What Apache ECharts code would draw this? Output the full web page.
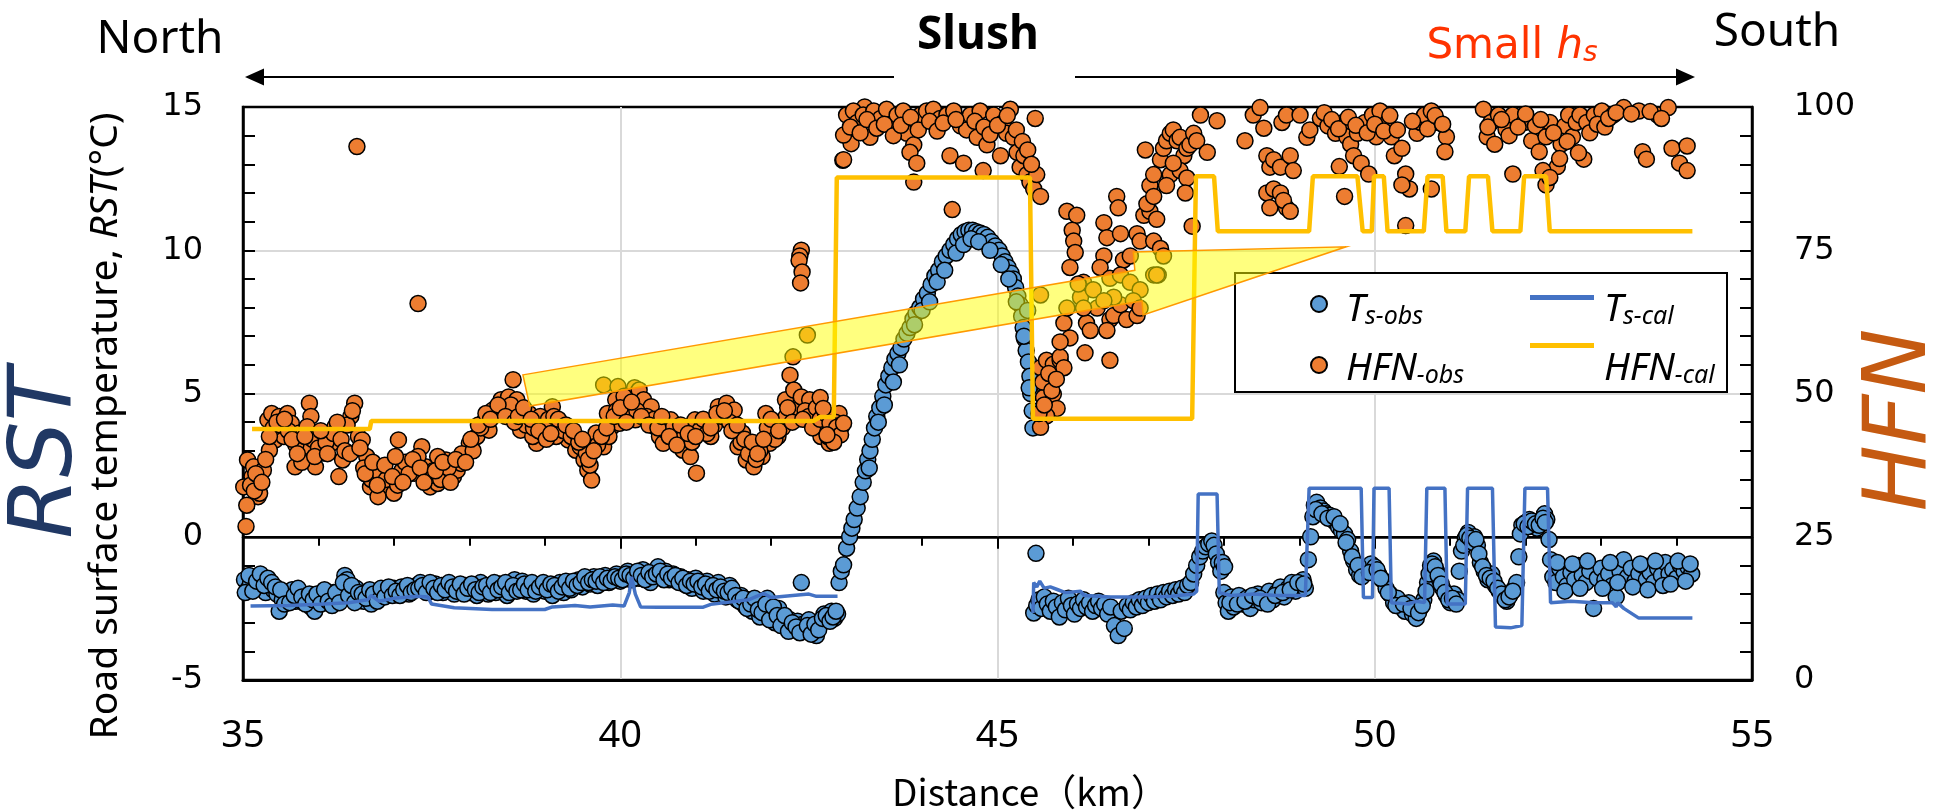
<!DOCTYPE html>
<html><head><meta charset="utf-8">
<script src="https://cdn.jsdelivr.net/npm/echarts@6/dist/echarts.min.js"></script>
<style>html,body{margin:0;padding:0;background:#fff}#c{width:1942px;height:811px}</style>
</head><body><div id="c"></div><script>
// ---- tick labels ----
const xTicks = [35, 40, 45, 50, 55];
const rstTicks = [-5, 0, 5, 10, 15];
const hfnTicks = [0, 25, 50, 75, 100];

// ---- Ts-obs (°C) : [distance km, temperature] ----
const tsObs = [
[34.98,-1.7],[35.02,-1.5],[35.06,-1.85],[35.1,-1.62],[35.15,-1.4],[35.2,-1.75],[35.25,-1.55],[35.3,-1.95],[35.35,-1.7],[35.4,-1.85],[35.45,-2.0],
[35.48,-2.6],[35.52,-2.2],[35.56,-1.95],[35.6,-2.1],[35.65,-1.85],[35.7,-2.25],[35.75,-2.0],[35.8,-2.3],[35.85,-2.1],[35.9,-2.45],
[35.95,-2.6],[36.0,-2.2],[36.05,-2.0],[36.1,-2.3],[36.15,-2.1],[36.2,-1.95],[36.25,-2.2],[36.3,-2.05],
[36.35,-1.35],[36.38,-1.5],[36.42,-1.9],[36.46,-2.1],[36.5,-1.8],[36.55,-2.2],
[36.6,-2.25],[36.65,-1.95],[36.7,-2.35],[36.75,-2.1],[36.8,-1.9],[36.85,-2.05],
[36.9,-1.85],[36.95,-2.0],[37.0,-1.8],[37.05,-1.95],[37.1,-1.75],[37.15,-1.9],[37.2,-2.0],[37.25,-1.8],[37.3,-1.7],
[37.35,-1.6],[37.4,-1.85],[37.45,-1.7],[37.5,-1.9],[37.55,-1.65],[37.6,-1.8],[37.65,-1.95],[37.7,-1.7],[37.75,-1.85],[37.8,-2.0],[37.85,-1.75],[37.9,-1.9],
[37.95,-1.7],[38.0,-1.95],[38.05,-1.8],[38.1,-2.05],[38.15,-1.6],[38.2,-1.85],[38.25,-2.0],[38.3,-1.75],[38.35,-1.95],[38.4,-1.65],[38.45,-1.9],[38.5,-2.05],[38.55,-1.8],[38.6,-1.5],[38.65,-1.7],
[38.7,-1.55],[38.75,-1.9],[38.8,-1.75],[38.85,-2.0],[38.9,-1.8],[38.95,-1.65],[39.0,-1.9],[39.05,-1.75],[39.1,-2.05],[39.15,-1.8],[39.2,-1.6],[39.25,-1.95],[39.3,-1.7],[39.35,-1.85],[39.4,-1.65],
[39.45,-1.5],[39.5,-1.75],[39.55,-1.45],[39.6,-1.65],[39.65,-1.4],[39.7,-1.7],[39.75,-1.5],[39.8,-1.35],[39.85,-1.6],[39.9,-1.45],[39.95,-1.3],[40.0,-1.55],
[40.05,-1.35],[40.1,-1.2],[40.15,-1.5],[40.2,-1.3],[40.25,-1.45],[40.3,-1.15],[40.35,-1.4],[40.4,-1.6],[40.45,-1.25],[40.5,-1.05],[40.55,-1.4],[40.6,-1.2],[40.65,-1.5],[40.7,-1.3],[40.75,-1.55],
[40.8,-1.4],[40.85,-1.65],[40.9,-1.5],[40.95,-1.8],[41.0,-1.45],[41.05,-1.7],[41.1,-1.9],[41.15,-1.55],[41.2,-1.75],[41.25,-2.0],[41.3,-1.6],[41.35,-1.85],[41.4,-2.1],[41.45,-1.7],[41.5,-1.95],[41.55,-2.2],
[41.6,-2.05],[41.65,-2.4],[41.7,-2.2],[41.75,-2.6],[41.8,-2.3],[41.85,-2.8],[41.9,-2.45],[41.95,-2.15],[42.0,-2.65],[42.05,-3.0],[42.1,-2.5],
[42.15,-2.85],[42.2,-3.1],[42.25,-2.9],[42.3,-3.25],[42.35,-2.95],[42.4,-1.6],[42.42,-3.05],[42.45,-3.3],[42.5,-2.9],[42.55,-3.15],[42.6,-3.45],[42.65,-3.0],
[42.7,-2.7],[42.75,-2.9],[42.8,-2.6],[42.84,-2.85],[42.88,-2.7],
[35.03,-1.95],[35.08,-1.35],[35.13,-1.9],[35.18,-1.55],[35.23,-1.3],[35.28,-1.7],[35.33,-1.45],[35.38,-1.6],[35.43,-1.75],
[35.5,-1.85],[35.55,-2.35],[35.62,-2.3],[35.68,-2.05],[35.73,-1.8],[35.78,-2.1],[35.83,-2.35],[35.88,-2.0],[35.93,-2.2],[35.98,-2.0],[36.03,-2.35],[36.08,-1.85],[36.13,-2.25],[36.18,-2.4],[36.23,-1.95],[36.28,-2.3],
[36.33,-1.6],[36.4,-2.05],[36.44,-1.7],[36.48,-2.3],[36.53,-1.95],[36.58,-2.0],[36.63,-2.15],[36.68,-1.85],[36.73,-2.0],[36.78,-2.25],[36.83,-1.8],[36.88,-2.1],[36.93,-1.75],[36.98,-2.05],[37.03,-1.9],[37.08,-2.05],[37.13,-1.85],[37.18,-1.7],[37.23,-1.95],[37.28,-1.85],
[37.33,-1.8],[37.38,-1.7],[37.43,-1.95],[37.48,-1.6],[37.53,-1.8],[37.58,-1.95],[37.63,-1.7],[37.68,-1.85],[37.73,-1.6],[37.78,-1.75],[37.83,-1.9],[37.88,-1.65],[37.93,-2.0],[37.98,-1.8],[38.03,-1.65],[38.08,-1.85],[38.13,-1.95],[38.18,-1.75],[38.23,-1.7],[38.28,-1.95],[38.33,-1.6],[38.38,-1.85],[38.43,-1.75],[38.48,-1.6],[38.53,-1.95],[38.58,-1.7],[38.63,-1.9],
[38.68,-1.85],[38.73,-1.65],[38.78,-1.85],[38.83,-1.6],[38.88,-1.9],[38.93,-1.75],[38.98,-1.6],[39.03,-1.85],[39.08,-1.65],[39.13,-1.7],[39.18,-1.9],[39.23,-1.75],[39.28,-1.55],[39.33,-1.8],[39.38,-1.55],[39.43,-1.7],[39.48,-1.6],[39.53,-1.4],[39.58,-1.6],[39.63,-1.5],[39.68,-1.55],[39.73,-1.4],[39.78,-1.6],[39.83,-1.45],[39.88,-1.55],[39.93,-1.4],[39.98,-1.45],
[40.03,-1.5],[40.08,-1.3],[40.13,-1.35],[40.18,-1.45],[40.23,-1.2],[40.28,-1.35],[40.33,-1.5],[40.38,-1.25],[40.43,-1.4],[40.48,-1.3],[40.53,-1.2],[40.58,-1.5],[40.63,-1.3],[40.68,-1.45],[40.73,-1.35],
[40.78,-1.6],[40.83,-1.45],[40.88,-1.7],[40.93,-1.55],[40.98,-1.65],[41.03,-1.55],[41.08,-1.75],[41.13,-1.65],[41.18,-1.9],[41.23,-1.7],[41.28,-1.85],[41.33,-1.75],[41.38,-1.9],[41.43,-1.95],[41.48,-1.8],[41.53,-2.05],
[41.58,-2.25],[41.63,-2.15],[41.68,-2.5],[41.73,-2.35],[41.78,-2.15],[41.83,-2.55],[41.88,-2.65],[41.93,-2.35],[41.98,-2.9],[42.03,-2.45],[42.08,-2.75],[42.13,-3.1],[42.18,-2.75],[42.23,-3.3],[42.28,-3.0],[42.33,-3.15],[42.38,-3.35],[42.48,-3.1],[42.53,-3.4],[42.58,-3.05],[42.63,-3.25],[42.68,-2.85],[42.73,-2.75],[42.78,-2.95],[42.82,-2.8],[42.86,-2.6],
[42.9,-1.6],[42.93,-1.2],[42.96,-0.98],[43.0,-0.4],[43.04,0.0],[43.07,0.3],[43.1,0.6],[43.14,1.0],[43.18,1.4],[43.22,1.9],[43.25,2.3],[43.28,2.7],[43.31,3.0],[43.34,3.4],[43.37,3.8],[43.4,4.2],[43.44,4.5],[43.48,4.9],[43.52,5.3],[43.56,5.6],[43.6,5.9],[43.64,6.2],[43.68,6.4],[43.72,6.6],[43.76,6.9],[43.8,7.1],[43.84,7.3],[43.88,7.6],[43.92,7.8],[43.97,8.0],[44.02,8.3],[44.07,8.5],[44.12,8.8],[44.17,9.1],[44.22,9.3],[44.27,9.6],[44.32,9.8],[44.37,10.0],[44.42,10.2],[44.47,10.4],[44.52,10.55],[44.57,10.65],[44.62,10.7],[44.67,10.7],[44.72,10.65],[44.77,10.6],[44.82,10.55],[44.87,10.45],[44.92,10.3],[44.97,10.15],[45.02,10.0],[45.06,9.8],[45.1,9.6],[45.14,9.4],[45.18,9.2],[45.21,9.0],[45.24,8.7],[45.27,8.4],[45.3,8.1],[45.32,7.7],[45.34,7.3],[45.36,6.9],[45.38,6.5],[45.41,6.1],[45.43,5.6],[45.44,5.0],[45.46,4.4],[45.47,3.8],[45.51,-0.58],
[43.3,2.4],[43.42,4.0],[43.5,4.6],[43.62,5.4],[43.7,6.0],[43.9,7.4],[44.0,7.9],[44.1,8.2],[44.2,8.9],[44.3,9.3],[44.45,9.9],[44.55,10.2],[44.65,10.4],[44.75,10.3],[44.9,10.0],[45.05,9.5],[45.15,9.0],[45.25,8.2],[45.35,7.0],[45.4,7.9],[45.42,5.2],
[45.48,-2.66],[45.52,-2.4],[45.55,-2.2],[45.58,-2.5],[45.62,-2.1],[45.66,-2.35],[45.7,-2.6],[45.74,-2.25],[45.78,-2.45],[45.82,-2.8],[45.86,-2.3],[45.9,-2.55],[45.94,-2.15],[45.98,-2.4],[46.02,-2.7],[46.06,-2.35],[46.1,-2.5],[46.14,-2.2],[46.18,-2.45],[46.22,-2.3],[46.26,-2.6],[46.3,-2.4],[46.34,-2.25],[46.38,-2.5],[46.42,-2.35],[46.46,-2.7],[46.5,-2.45],[46.55,-3.1],[46.6,-3.45],[46.64,-2.6],[46.68,-3.2],[46.72,-2.4],[46.76,-2.55],[46.8,-2.3],[46.84,-2.45],[46.88,-2.2],[46.92,-2.4],[46.96,-2.15],[47.0,-2.3],[47.04,-2.05],[47.08,-2.25],[47.12,-2.0],[47.16,-2.2],[47.2,-1.95],[47.24,-2.1],[47.28,-1.9],[47.32,-2.05],[47.36,-1.85],[47.4,-2.0],[47.44,-1.8],[47.48,-1.95],[47.52,-1.7],[47.56,-1.6],[47.6,-1.3],[47.64,-1.0],[47.68,-0.7],[47.72,-0.5],[47.76,-0.35],[47.8,-0.25],[47.84,-0.15],[47.87,-0.3],[47.9,-0.6],[47.93,-0.9],[47.96,-1.2],[47.98,-0.9],[48.01,-1.05],
[48.0,-1.95],[48.03,-2.3],[48.06,-2.6],[48.1,-2.1],[48.13,-2.45],[48.16,-2.2],
[48.2,-2.05],[48.25,-2.35],[48.3,-2.15],[48.35,-2.5],[48.4,-2.2],[48.45,-2.0],[48.5,-2.3],[48.55,-2.1],[48.6,-1.9],[48.65,-2.2],
[48.7,-1.95],[48.75,-1.75],[48.8,-2.1],[48.85,-1.8],[48.9,-1.6],[48.95,-1.9],[49.0,-1.7],[49.05,-1.5],[49.08,-1.8],
[48.08,-2.3],[48.18,-2.35],[48.28,-2.25],[48.38,-2.05],[48.48,-2.15],[48.58,-2.35],[48.68,-2.05],[48.78,-1.95],[48.88,-1.85],[48.98,-1.6],[49.06,-1.65],
[49.12,-0.8],[49.15,0.0],[49.18,0.7],[49.2,1.1],[49.23,1.2],
[49.28,1.0],[49.32,0.9],[49.36,0.8],[49.4,0.75],[49.44,0.6],[49.48,0.5],[49.52,0.35],[49.56,0.2],[49.6,0.1],[49.64,-0.1],[49.68,-0.5],
[49.72,-0.85],[49.76,-1.15],[49.8,-1.35],[49.85,-1.2],
[49.9,-1.1],[49.95,-0.95],[50.0,-1.05],[50.05,-1.3],[50.1,-1.5],[50.15,-1.8],
[50.2,-2.0],[50.25,-2.3],[50.3,-2.15],[50.35,-2.45],[50.4,-2.6],[50.45,-2.3],[50.5,-2.7],[50.55,-2.85],[50.6,-2.5],[50.65,-2.2],
[50.7,-1.6],[50.74,-1.0],[50.78,-0.85],[50.82,-1.2],[50.86,-1.5],[50.9,-1.8],
[50.95,-2.05],[51.0,-2.3],[51.05,-2.0],[51.1,-2.2],
[51.15,-0.5],[51.2,-0.05],[51.24,0.15],[51.28,-0.1],[51.32,0.0],[51.36,-0.3],
[51.4,-0.9],[51.45,-1.2],[51.5,-1.5],[51.55,-1.3],[51.6,-1.7],[51.65,-1.9],
[51.7,-2.1],[51.75,-2.25],[51.8,-2.0],[51.85,-1.8],[51.88,-1.6],
[51.91,-0.7],[51.95,0.4],[52.0,0.5],[52.05,0.6],[52.1,0.4],[52.15,0.3],[52.2,0.5],[52.25,0.8],[52.28,0.6],[52.31,-0.1],
[52.33,-0.8],[52.36,-1.4],
[49.22,0.95],[49.3,0.8],[49.38,0.65],[49.46,0.7],[49.54,0.45],[49.62,-0.2],[49.7,-0.7],[49.78,-1.0],[49.83,-1.4],[49.93,-1.25],[50.03,-1.15],[50.08,-1.45],[50.18,-1.95],[50.28,-2.4],[50.38,-2.35],[50.48,-2.5],[50.58,-2.65],[50.63,-2.4],[50.68,-1.9],[50.72,-1.3],[50.76,-0.95],[50.8,-1.05],[50.84,-1.35],[50.88,-1.65],[50.93,-1.95],[50.98,-2.2],[51.03,-2.15],[51.08,-2.35],[51.12,-1.2],[51.18,-0.3],[51.22,0.05],[51.26,-0.05],[51.3,-0.2],[51.34,-0.1],[51.38,-0.6],[51.43,-1.05],[51.48,-1.35],[51.53,-1.45],[51.58,-1.55],[51.63,-1.8],[51.68,-2.0],[51.73,-2.2],[51.78,-2.1],[51.83,-1.9],[51.93,0.1],[51.98,0.45],[52.03,0.35],[52.08,0.55],[52.13,0.45],[52.18,0.4],[52.23,0.65],[52.26,0.5],
[52.4,-1.6],[52.45,-1.1],[52.5,-1.4],[52.55,-1.7],[52.6,-1.25],[52.65,-1.5],[52.7,-1.0],[52.75,-1.35],[52.8,-1.6],[52.85,-1.2],[52.9,-2.5],[52.95,-1.45],[53.0,-1.1],[53.05,-1.5],[53.1,-1.3],[53.15,-1.7],[53.2,-2.1],[53.25,-1.2],[53.3,-0.8],[53.35,-1.4],[53.4,-1.1],[53.45,-1.55],[53.5,-1.3],[53.55,-1.0],[53.6,-1.5],[53.65,-1.25],[53.7,-1.6],[53.75,-1.1],[53.8,-1.35],[53.85,-0.9],[53.9,-1.3],[53.95,-1.15],[54.0,-1.45],[54.05,-1.0],[54.1,-1.2],[54.15,-1.05],[54.2,-1.3],
[52.42,-0.9],[52.52,-1.9],[52.62,-0.95],[52.72,-1.8],[52.82,-0.85],[53.02,-1.8],[53.12,-0.9],[53.22,-1.6],[53.42,-1.75],[53.52,-0.95],[53.62,-1.85],[53.72,-0.85],[53.82,-1.7],[53.92,-1.65],[54.02,-0.85],[54.12,-1.55],[54.18,-0.95]
];

// ---- HFN-obs : [distance km, HFN] ----
const hfnObs = [
[35.04,26.8],[35.06,38.4],[35.12,35.5],[35.2,32.0],[35.22,32.6],[35.01,33.7],[35.14,37.2],[35.27,36.6],[35.33,45.4],[35.38,46.5],[35.48,46.0],[35.59,46.5],[35.43,41.9],[35.54,42.5],[35.64,44.8],[35.35,40.1],[35.69,37.2],[35.8,40.7],[35.88,48.3],[35.9,46.0],[35.96,37.2],[35.75,43.1],[35.85,44.2],
[36.06,39.6],[36.22,44.2],[36.32,38.4],[36.43,46.0],[36.48,48.3],[36.53,42.5],[36.17,41.3],[36.27,35.5],[36.58,41.9],[36.64,39.0],[36.74,36.6],[36.85,34.9],[36.95,33.7],[37.06,41.9],[37.11,36.6],[36.69,33.7],[36.79,32.0],[37.0,32.6],
[37.27,36.1],[37.37,40.7],[37.48,33.7],[37.58,34.3],[37.69,38.4],[37.79,35.5],[37.42,37.2],[37.58,39.0],[37.84,36.6],[37.89,37.8],
[38.0,41.3],[38.1,42.5],[38.21,45.4],[38.31,47.1],[38.42,48.9],[38.52,49.4],[38.58,47.1],[38.63,48.9],[38.26,43.6],[38.58,52.4],
[38.68,43.6],[38.79,46.5],[38.89,41.3],[39.0,44.2],[39.1,47.7],[39.2,44.8],[39.31,41.9],[39.41,40.1],[38.84,42.5],[38.94,46.0],[39.15,42.5],
[39.47,40.7],[39.52,38.4],[39.57,36.6],[39.62,34.9],[39.68,43.1],[39.78,40.7],[39.89,44.2],[39.99,44.8],[39.55,39.6],
[39.78,51.5],[39.97,51.2],[40.19,51.0],[40.25,50.6],[39.83,46.5],[39.94,48.9],[40.1,47.7],[40.2,45.4],[40.31,48.9],[40.41,47.7],[40.46,44.2],[40.52,42.5],
[40.57,41.3],[40.67,45.4],[40.78,43.1],[40.88,44.2],[40.99,45.4],[41.09,44.8],[41.2,42.5],[40.83,40.1],[40.93,39.0],[41.01,36.1],
[41.3,47.7],[41.41,48.3],[41.51,47.1],[41.56,40.7],[41.67,38.4],[41.77,37.2],[41.88,39.0],[41.98,41.3],[41.62,43.1],[41.72,40.7],[41.93,46.5],
[42.19,48.9],[42.25,53.2],[42.3,50.6],[42.35,47.1],[42.4,49.4],[42.51,48.9],[42.56,46.5],[42.61,44.8],[42.09,42.5],[42.66,42.5],[42.77,41.3],[42.82,43.6],[42.9,46.5],[42.93,44.2],
[35.1,34.0],[35.17,36.0],[35.3,38.5],[35.4,44.0],[35.5,44.5],[35.6,43.5],[35.7,41.0],[35.78,38.0],[35.92,42.0],[36.0,40.5],[36.1,41.5],[36.2,43.0],[36.3,42.0],[36.38,44.5],[36.45,47.0],[36.6,37.0],[36.7,35.0],[36.82,36.0],[36.9,35.0],[37.05,34.0],[37.15,38.0],[37.2,36.0],[37.32,39.0],[37.45,35.5],[37.52,36.5],[37.62,35.0],[37.72,37.0],[37.9,39.5],[38.05,40.0],[38.15,44.0],[38.35,46.5],[38.45,47.5],[38.55,48.0],[38.7,45.5],[38.75,44.5],[38.85,44.0],[38.98,43.0],[39.05,45.5],[39.12,46.0],[39.25,43.5],[39.35,42.5],[39.45,41.5],[39.6,37.5],[39.7,41.0],[39.85,42.5],[39.95,47.0],[40.05,49.5],[40.12,46.5],[40.22,47.0],[40.35,46.0],[40.45,45.5],[40.6,43.5],[40.7,44.0],[40.85,42.5],[40.95,41.5],[41.05,43.5],[41.15,43.0],[41.25,44.5],[41.35,46.0],[41.45,45.0],[41.6,41.5],[41.7,39.5],[41.8,38.5],[41.85,40.0],[41.95,44.0],[42.05,42.0],[42.15,44.0],[42.2,46.0],[42.45,47.0],[42.5,46.0],[42.6,47.5],[42.7,44.0],[42.75,42.5],[42.85,45.0],
[35.05,30.5],[35.15,33.0],[35.25,34.5],[35.35,42.5],[35.45,45.0],[35.55,45.5],[35.65,42.0],[35.72,39.5],[35.82,42.5],[35.95,39.0],[36.03,43.5],[36.12,39.5],[36.25,45.0],[36.35,40.0],[36.42,39.5],[36.55,40.5],[36.62,36.0],[36.72,38.0],[36.78,34.0],[36.88,37.5],[36.98,35.5],[37.02,39.0],[37.12,34.5],[37.25,38.5],[37.35,37.0],[37.4,34.5],[37.55,36.5],[37.65,38.0],[37.75,34.5],[37.82,38.5],[37.95,38.0],[38.02,42.0],[38.12,44.5],[38.22,46.5],[38.28,45.5],[38.38,48.0],[38.48,46.0],[38.6,45.0],[38.65,46.0],[38.72,47.5],[38.82,45.5],[38.92,43.5],[39.02,42.0],[39.08,43.0],[39.18,45.5],[39.28,44.5],[39.38,43.5],[39.5,42.0],[39.58,38.5],[39.65,40.0],[39.75,42.5],[39.82,44.0],[39.92,46.0],[40.0,47.5],[40.08,45.0],[40.15,48.5],[40.28,46.0],[40.38,44.5],[40.5,44.0],[40.55,46.0],[40.65,42.5],[40.75,41.0],[40.8,44.5],[40.9,43.0],[41.0,42.5],[41.1,45.5],[41.2,44.0],[41.28,46.5],[41.38,47.0],[41.48,43.5],[41.55,44.5],[41.65,42.0],[41.75,41.5],[41.82,39.5],[41.9,42.0],[42.0,45.5],[42.1,43.5],[42.22,47.5],[42.28,45.0],[42.42,45.5],[42.55,44.0],[42.65,45.5],[42.72,46.5],[42.8,44.5],
[36.51,93.1],[37.32,65.7],[42.4,75.0],[42.38,74.0],[42.37,73.2],[42.41,71.2],[42.39,69.3],[42.29,56.4],[42.48,60.2],
[42.95,90.7],[42.98,95.1],[43.06,93.6],[43.08,98.6],[43.24,100],
[42.65,49.3],[42.69,47.4],[42.78,44.8],[42.87,44.1],[42.92,42.8],[42.83,41.5],[42.74,42.8],[42.96,44.8],
[42.96,95.1],[43.0,98.6],[43.09,99.3],[43.14,97.3],[43.22,98.6],[43.31,94.7],[43.36,99.3],[43.45,98.0],[43.53,99.6],[43.58,97.0],[43.67,98.6],[43.75,99.3],[43.8,95.4],[43.89,93.4],[43.98,98.6],[44.06,99.3],[44.15,99.6],[44.24,98.0],[44.33,98.6],[44.42,99.3],[44.51,96.7],[44.59,96.0],[44.64,98.6],[44.73,94.7],[44.77,99.3],[44.86,93.4],[44.95,98.6],[45.04,91.5],[45.08,97.3],[45.12,95.4],[45.17,99.6],[45.21,94.7],[45.26,92.1],[45.3,89.5],[45.35,91.5],[45.39,88.2],[45.43,86.9],[45.48,85.7],[45.52,88.2],[45.57,84.4],[45.5,98.0],
[42.96,90.8],[43.84,92.1],[43.93,90.2],[44.37,91.5],[44.55,90.2],[43.89,86.9],[44.81,88.9],[44.4,82.1],
[43.05,96.5],[43.18,95.5],[43.27,97.8],[43.4,96.3],[43.5,97.0],[43.62,95.0],[43.72,96.8],[43.85,98.2],[43.95,96.0],[44.1,97.5],[44.2,95.8],[44.28,97.2],[44.45,97.8],[44.7,97.5],[44.82,96.5],[44.9,95.2],[45.0,96.8],[45.13,98.5],[45.25,96.0],[45.33,94.0],[45.4,92.5],[45.45,90.0],
[45.57,54.5],[45.65,55.8],[45.74,55.1],[45.83,55.8],[45.7,51.9],[45.61,49.3],[45.74,49.9],[45.79,47.4],[45.65,46.1],[45.57,44.1],[45.83,56.4],[45.88,54.5],[45.55,46.5],[45.6,52.0],[45.68,53.5],[45.72,50.5],[45.78,52.5],[45.62,48.0],
[45.92,81.8],[46.05,81.1],[45.99,78.5],[46.01,76.6],[46.03,74.6],[45.96,72.0],[46.14,69.4],[46.1,66.8],[46.18,62.3],[46.23,61.0],[45.88,62.3],[45.96,59.7],[45.83,59.0],[46.32,64.9],[46.41,79.8],[46.45,77.2],[46.41,74.0],[46.36,72.0],[46.49,70.1],[46.58,84.4],[46.6,82.4],[46.63,77.9],[46.49,62.9],[46.45,61.0],[46.54,63.6],[46.63,65.5],[46.67,73.3],[46.76,74.0],[46.85,77.9],[46.89,76.6],[46.94,81.1],[47.02,81.8],[47.07,76.6],[47.11,80.4],[47.16,75.3],[47.07,70.7],[46.71,62.9],[46.85,63.6],[46.49,55.8],[46.16,57.1],[47.13,70.7],[47.2,74.0],
[45.57,67.2],[46.07,69.1],[46.27,68.1],[46.54,66.8],[46.63,70.7],[46.76,69.4],[46.89,68.1],[47.11,70.7],[45.92,64.9],[46.14,64.9],[46.41,66.2],[46.8,66.2],[46.89,64.9],
[46.96,92.5],[47.02,86.3],[47.07,88.2],[47.16,90.8],[47.2,92.8],[47.24,94.1],[47.29,95.4],[47.33,96.0],[47.38,94.1],[47.42,94.7],[47.47,91.5],[47.51,92.8],[47.55,93.4],[47.6,95.4],[47.64,94.1],[47.69,98.6],[47.78,92.1],[47.91,97.6],[47.29,88.2],[47.42,88.9],[47.51,87.6],[47.49,85.0],[47.58,79.2],[46.98,83.1],[47.07,84.4],[47.24,86.3],[47.33,90.2],
[48.28,94.1],[48.39,98.6],[48.48,99.9],[48.53,96.3],[48.57,91.5],[48.61,89.5],[48.66,90.8],[48.75,89.5],[48.77,97.3],[48.83,98.6],[48.88,91.5],[48.92,88.9],[49.01,98.6],[49.1,94.7],[49.14,96.0],[48.57,85.0],[48.66,85.7],[48.75,85.0],[48.83,82.4],[48.61,82.4],[48.79,83.7],[48.88,81.8],
[49.28,98.0],[49.38,96.7],[49.48,95.4],[49.58,97.3],[49.63,94.8],[49.68,93.5],[49.72,91.5],[49.77,95.4],[49.87,97.3],[49.97,98.6],[50.02,94.8],[50.07,99.3],[50.17,97.3],[50.22,94.8],[50.26,91.5],[50.36,92.8],[50.41,88.3],[50.46,85.7],[50.56,95.4],[50.61,97.3],[50.66,98.6],[50.75,99.3],[50.85,97.3],[50.95,94.8],[49.53,89.6],[49.6,84.4],[49.82,90.2],[49.92,88.3],[50.36,86.4],[50.41,79.3],[50.75,85.7],[50.93,92.2],
[49.33,99.0],[49.43,97.8],[49.52,96.2],[49.65,98.2],[49.75,96.8],[49.9,95.5],[50.0,97.0],[50.12,95.8],[50.2,98.5],[50.3,96.0],[50.5,97.5],[50.7,96.2],[50.8,98.5],[50.9,97.0],
[51.44,99.6],[51.49,94.8],[51.54,97.3],[51.59,93.5],[51.64,98.6],[51.74,96.1],[51.83,98.6],[51.98,97.3],[52.08,94.1],[52.13,96.7],[52.18,92.2],[52.27,94.8],[52.32,97.3],[52.42,89.6],[52.47,93.5],[52.52,96.7],[52.57,98.6],[52.62,94.8],[52.67,97.3],[52.72,98.6],[52.77,90.9],[52.81,97.3],[52.91,98.6],[53.01,99.3],[53.16,98.6],[53.3,99.9],[53.5,99.3],[53.75,98.6],[53.89,99.9],[53.94,92.8],[54.04,90.2],[54.14,93.2],[54.14,88.9],[53.55,92.2],[53.6,90.9],[51.83,88.3],[52.23,88.9],[52.27,86.4],[52.32,87.7],
[51.5,96.5],[51.68,97.8],[51.78,95.0],[51.9,96.5],[52.0,98.8],[52.2,97.8],[52.37,95.5],[52.45,91.0],[52.55,94.0],[52.7,92.0],[52.85,95.5],[52.95,97.0],[53.05,96.5],[53.1,98.0],[53.2,99.0],[53.4,98.8],[53.65,99.2],[53.8,98.0]
];

// ---- Ts-cal (°C) ----
const tsCal = [
[35.1,-2.42],[35.6,-2.40],[36.0,-2.36],[36.4,-2.30],[36.65,-2.2],[36.7,-2.05],[36.8,-2.25],[37.0,-2.15],[37.3,-2.08],[37.45,-2.1],[37.5,-2.35],[37.8,-2.48],[38.3,-2.54],[39.0,-2.54],[39.1,-2.45],[39.4,-2.40],[39.6,-2.45],[39.9,-2.38],[40.05,-2.42],[40.12,-1.95],[40.15,-1.4],[40.2,-2.0],[40.27,-2.45],[40.5,-2.46],[41.1,-2.46],[41.2,-2.36],[41.7,-2.2],[41.9,-1.98],[42.0,-2.12],[42.5,-2.0],[42.6,-2.08],[42.88,-2.08],
[44.0,null],
[45.47,-2.66],[45.48,-1.6],[45.52,-1.75],[45.56,-1.55],[45.62,-1.8],[45.7,-1.75],[45.8,-1.85],[45.9,-1.95],[46.1,-1.9],[46.15,-2.05],[46.5,-2.1],[47.0,-2.1],[47.3,-2.08],[47.6,-2.0],[47.64,-1.9],[47.66,1.49],[47.91,1.49],[47.94,-1.95],[48.1,-2.05],[48.4,-2.0],[48.7,-2.05],[49.08,-2.05],[49.13,1.69],[49.82,1.69],[49.85,-2.12],[49.97,-2.12],[49.99,1.69],[50.19,1.69],[50.22,-2.3],[50.45,-2.35],[50.55,-2.25],[50.66,-2.3],[50.69,1.69],[50.93,1.69],[50.96,-2.35],[51.2,-2.35],[51.23,1.69],[51.56,1.69],[51.6,-3.15],[51.8,-3.18],[51.95,-3.1],[51.99,1.69],[52.29,1.69],[52.33,-2.3],[52.6,-2.25],[52.9,-2.3],[53.15,-2.3],[53.2,-2.45],[53.22,-2.3],[53.3,-2.5],[53.5,-2.84],[54.21,-2.84]
];

// ---- HFN-cal ----
const hfnCal = [
[35.12,43.8],[36.68,43.8],[36.7,45.2],[42.56,45.2],[42.65,45.9],[42.83,45.9],[42.87,87.7],[45.43,87.7],[45.47,45.6],[47.58,45.6],[47.63,87.9],[47.87,87.9],[47.92,78.3],[49.13,78.3],[49.18,87.9],[49.77,87.9],[49.84,78.3],[49.96,78.3],[49.99,87.9],[50.12,87.9],[50.17,78.3],[50.65,78.3],[50.70,87.9],[50.9,87.9],[50.95,78.3],[51.2,78.3],[51.25,87.9],[51.5,87.9],[51.56,78.3],[51.93,78.3],[51.98,87.9],[52.27,87.9],[52.32,78.3],[54.21,78.3]
];

// ---- yellow trend arrow (data coords: km, °C) ----
const arrowX = [38.71, 46.82, 46.80, 49.62, 46.93, 46.915, 38.80];
const arrowY = [5.65, 9.30, 9.94, 10.12, 7.74, 8.23, 4.56];

const chart = echarts.init(document.getElementById('c'), null, {renderer: 'canvas'});

const legRich = {
  m: {fontFamily: 'Noto Sans', fontStyle: 'italic', fontSize: 38, lineHeight: 52, verticalAlign: 'bottom', color: '#000'},
  s: {fontFamily: 'Noto Sans', fontStyle: 'italic', fontSize: 25, lineHeight: 23, verticalAlign: 'bottom', color: '#000'}
};
function legText(x, y, txt) {
  return {type: 'text', x: x, y: y, z: 7, style: {text: txt, align: 'left', verticalAlign: 'middle', fill: '#000', rich: legRich}};
}

const option = {
  animation: false,
  backgroundColor: '#fff',
  grid: {left: 243, right: 190, top: 107, bottom: 131, show: true, borderColor: '#000', borderWidth: 2.5, backgroundColor: 'transparent'},
  xAxis: [
    {type: 'value', min: xTicks[0], max: xTicks[xTicks.length - 1], interval: xTicks[1] - xTicks[0], position: 'bottom',
     axisLine: {onZero: false, lineStyle: {color: '#000', width: 3}},
     axisTick: {show: false},
     axisLabel: {margin: 37, fontSize: 38, fontFamily: 'Noto Sans', color: '#000'},
     splitLine: {show: true, lineStyle: {color: ['#000', '#d9d9d9', '#d9d9d9', '#d9d9d9', '#000'], width: 2}}},
    {type: 'value', min: xTicks[0], max: xTicks[xTicks.length - 1], interval: xTicks[1] - xTicks[0], position: 'bottom',
     axisLine: {onZero: true, onZeroAxisIndex: 0, lineStyle: {color: '#000', width: 2.5}},
     axisTick: {show: true, length: 12, lineStyle: {color: '#000', width: 2}},
     minorTick: {show: true, splitNumber: 5, length: 9, lineStyle: {color: '#000', width: 2}},
     axisLabel: {show: false}, splitLine: {show: false}}
  ],
  yAxis: [
    {type: 'value', min: rstTicks[0], max: rstTicks[rstTicks.length - 1], interval: rstTicks[1] - rstTicks[0], position: 'left',
     axisLine: {show: true, onZero: false, lineStyle: {color: '#000', width: 2.5}},
     axisTick: {show: true, inside: true, length: 12, lineStyle: {color: '#000', width: 2}},
     minorTick: {show: true, splitNumber: 5, length: 12, lineStyle: {color: '#000', width: 2}},
     axisLabel: {margin: 40, fontSize: 32, fontFamily: 'DejaVu Sans', color: '#000'},
     splitLine: {show: true, lineStyle: {color: ['#000', '#000', '#d9d9d9', '#d9d9d9', '#000'], width: 2}}},
    {type: 'value', min: hfnTicks[0], max: hfnTicks[hfnTicks.length - 1], interval: hfnTicks[1] - hfnTicks[0], position: 'right',
     axisLine: {show: true, onZero: false, lineStyle: {color: '#000', width: 2.5}},
     axisTick: {show: true, inside: true, length: 12, lineStyle: {color: '#000', width: 2}},
     minorTick: {show: true, splitNumber: 5, length: 12, lineStyle: {color: '#000', width: 2}},
     axisLabel: {margin: 42, fontSize: 32, fontFamily: 'DejaVu Sans', color: '#000'},
     splitLine: {show: false}}
  ],
  legend: [
    {data: ['Ts-obs', 'HFN-obs'], orient: 'vertical', left: 1310, top: 295, itemGap: 43, itemWidth: 16, itemHeight: 16,
     padding: 0, textStyle: {fontSize: 16, lineHeight: 16}, formatter: () => '', selectedMode: false, z: 6, icon: 'circle'},
    {data: ['Ts-cal', 'HFN-cal'], orient: 'vertical', left: 1530, top: 295, itemGap: 43, itemWidth: 64, itemHeight: 5,
     padding: 0, textStyle: {fontSize: 16, lineHeight: 16}, formatter: () => '', selectedMode: false, z: 6, icon: 'rect'}
  ],
  series: [
    {name: 'Ts-obs', type: 'scatter', xAxisIndex: 0, yAxisIndex: 0, data: tsObs, symbolSize: 16, z: 3,
     itemStyle: {color: '#5b9bd5', borderColor: '#000', borderWidth: 1.5, opacity: 1}},
    {name: 'HFN-obs', type: 'scatter', xAxisIndex: 0, yAxisIndex: 1, data: hfnObs, symbolSize: 16, z: 3,
     itemStyle: {color: '#ed7d31', borderColor: '#000', borderWidth: 1.5, opacity: 1}},
    {name: 'Ts-cal', type: 'line', xAxisIndex: 0, yAxisIndex: 0, data: tsCal, symbol: 'none', z: 4,
     connectNulls: false, lineStyle: {color: '#4472c4', width: 3.5}, itemStyle: {color: '#4472c4'}},
    {name: 'HFN-cal', type: 'line', xAxisIndex: 0, yAxisIndex: 1, data: hfnCal, symbol: 'none', z: 4,
     lineStyle: {color: '#ffc000', width: 4.5}, itemStyle: {color: '#ffc000'}},
    {name: 'trend', type: 'custom', xAxisIndex: 0, yAxisIndex: 0, z: 10, silent: true, clip: false,
     data: [[arrowX[0], arrowY[0]]],
     renderItem: function (params, api) {
       const pts = arrowX.map((x, i) => api.coord([x, arrowY[i]]));
       return {type: 'polygon', shape: {points: pts},
               style: {fill: 'rgba(255,255,0,0.5)', stroke: '#ff9900', lineWidth: 1.5}};
     }}
  ],
  graphic: [
    {type: 'rect', z: 3, shape: {x: 1235, y: 273, width: 492, height: 119}, style: {fill: '#fff', stroke: '#000', lineWidth: 2}},
    legText(1346, 303, '{m|T}{s|s-obs}'),
    legText(1346, 362, '{m|HFN}{s|-obs}'),
    legText(1604, 303, '{m|T}{s|s-cal}'),
    legText(1604, 362, '{m|HFN}{s|-cal}'),
    {type: 'line', shape: {x1: 260, y1: 77, x2: 894, y2: 77}, style: {stroke: '#000', lineWidth: 2}},
    {type: 'line', shape: {x1: 1075, y1: 77, x2: 1680, y2: 77}, style: {stroke: '#000', lineWidth: 2}},
    {type: 'polygon', shape: {points: [[245, 77], [264, 68.5], [264, 85.5]]}, style: {fill: '#000'}},
    {type: 'polygon', shape: {points: [[1695, 77], [1676, 68.5], [1676, 85.5]]}, style: {fill: '#000'}},
    {type: 'text', x: 160, y: 40, style: {text: 'North', fontSize: 46, fontFamily: 'Noto Sans', fill: '#000', align: 'center', verticalAlign: 'middle'}},
    {type: 'text', x: 978, y: 36, style: {text: 'Slush', fontSize: 46, fontWeight: 'bold', fontFamily: 'Noto Sans', fill: '#000', align: 'center', verticalAlign: 'middle'}},
    {type: 'text', x: 1777, y: 33, style: {text: 'South', fontSize: 46, fontFamily: 'Noto Sans', fill: '#000', align: 'center', verticalAlign: 'middle'}},
    {type: 'text', x: 1512, y: 40, style: {text: '{a|Small }{b|h}{c|s}', align: 'center', verticalAlign: 'middle', fill: '#ff3300',
      rich: {a: {fontSize: 42, fontFamily: 'DejaVu Sans', color: '#ff3300', lineHeight: 56, verticalAlign: 'bottom'},
             b: {fontSize: 42, fontFamily: 'DejaVu Sans', fontStyle: 'italic', color: '#ff3300', lineHeight: 56, verticalAlign: 'bottom'},
             c: {fontSize: 28, fontFamily: 'DejaVu Sans', fontStyle: 'italic', color: '#ff3300', lineHeight: 20, verticalAlign: 'bottom'}}}},
    {type: 'text', x: 48, y: 453, rotation: Math.PI / 2, style: {text: 'RST', fontSize: 88, fontStyle: 'italic', fontFamily: 'DejaVu Sans', fill: '#203864', align: 'center', verticalAlign: 'middle'}},
    {type: 'text', x: 106, y: 426, rotation: Math.PI / 2, style: {text: 'Road surface temperature, {i|RST}(°C)', fontSize: 39, fontFamily: 'Noto Sans', fill: '#000', align: 'center', verticalAlign: 'middle',
      rich: {i: {fontSize: 39, fontFamily: 'Noto Sans', fontStyle: 'italic', color: '#000'}}}},
    {type: 'text', x: 1902, y: 420, rotation: Math.PI / 2, style: {text: 'HFN', fontSize: 88, fontStyle: 'italic', fontFamily: 'DejaVu Sans', fill: '#c55a11', align: 'center', verticalAlign: 'middle'}},
    {type: 'text', x: 1030, y: 792, style: {text: 'Distance（km）', fontSize: 37, fontFamily: 'Noto Sans CJK JP', fill: '#000', align: 'center', verticalAlign: 'middle'}}
  ]
};
chart.setOption(option);
</script></body></html>
